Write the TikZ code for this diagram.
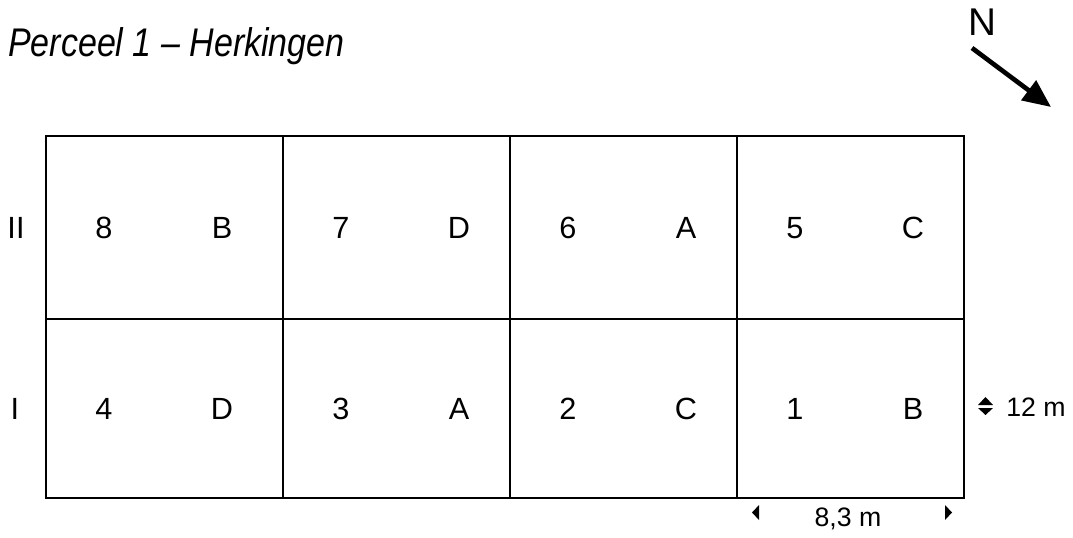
\documentclass[tikz,border=0pt]{standalone}
\usepackage{fontspec}
\setmainfont{Liberation Sans}
\newfontfamily\titlefont[FakeStretch=0.85]{Liberation Sans}
\usetikzlibrary{arrows.meta}

\tikzset{
  plotlabel/.style={font=\fontsize{23}{23}\selectfont, inner sep=0pt},
  dimlabel/.style={font=\fontsize{20}{20}\selectfont, inner sep=0pt},
  gridline/.style={line width=1.5pt}
}

\begin{document}
\begin{tikzpicture}[x=0.75pt, y=-0.75pt]

  \useasboundingbox (0,0) rectangle (1073,538);

  % Title
  \node[anchor=base west, inner sep=0pt, font=\titlefont\itshape\fontsize{30}{30}\selectfont]
    (title) at (8,57) {Perceel 1 – Herkingen};

  % North arrow
  \node[font=\fontsize{29}{29}\selectfont, inner sep=0pt] (north) at (982,22) {N};
  \coordinate (ntail) at (972,48);
  \coordinate (ntip) at (1051,107);
  \draw[line width=3.5pt, -{Triangle[length=21pt,width=18pt]}] (ntail) -- (ntip);

  % Grid
  \draw[gridline] (46,136) rectangle (964,498);
  \draw[gridline] (46,319) -- (964,319);
  \foreach \x in {283,510,737}
    \draw[gridline] (\x,136) -- (\x,498);

  % Plots: number and treatment
  \foreach \cx/\nt/\tt/\nb/\tb in {46/8/B/4/D, 283/7/D/3/A, 510/6/A/2/C, 737/5/C/1/B} {
    \node[plotlabel] (plot\nt) at (\cx+58,228) {\nt};
    \node[plotlabel] (treat\nt) at (\cx+176,228) {\tt};
    \node[plotlabel] (plot\nb) at (\cx+58,409) {\nb};
    \node[plotlabel] (treat\nb) at (\cx+176,409) {\tb};
  }

  % Rows
  \node[plotlabel] (rowII) at (16,228) {II};
  \node[plotlabel] (rowI) at (15,409) {I};

  % Dimensions
  \node[dimlabel, anchor=west] (plotwidth) at (1006,407) {12 m};
  \fill (978,405) -- (993,405) -- (985.5,397) -- cycle;
  \fill (978,408) -- (993,408) -- (985.5,415) -- cycle;
  \node[dimlabel] (plotlength) at (848,519) {8,3 m};
  \fill (752,512.5) -- (759,505) -- (759,520) -- cycle;
  \fill (952,512.5) -- (945,505) -- (945,520) -- cycle;

\end{tikzpicture}
\end{document}
